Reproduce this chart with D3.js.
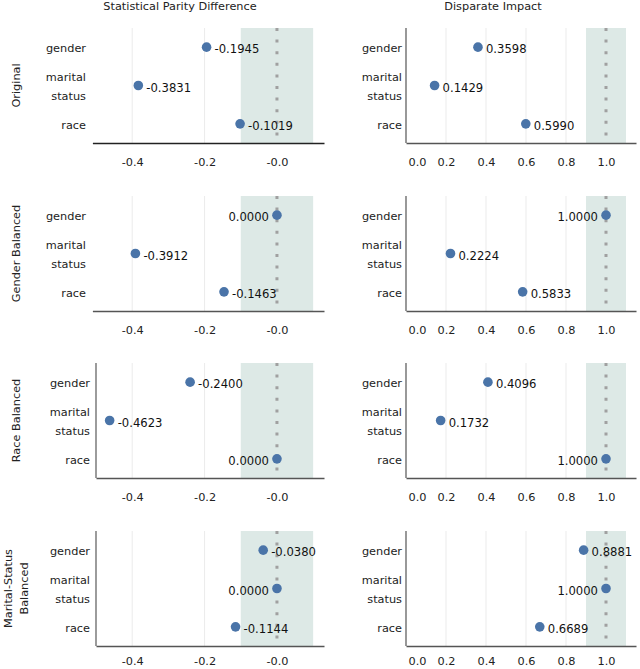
<!DOCTYPE html>
<html>
<head>
<meta charset="utf-8">
<script src="https://cdn.jsdelivr.net/npm/d3@7"></script>
<style>
  body { margin: 0; background: #fff; }
  svg { font-family: "DejaVu Sans", sans-serif; }
</style>
</head>
<body>
<svg width="640" height="669"></svg>
<script>
// categories and rows
var categories = ["gender", "marital status", "race"];
var rowNames = ["Original", "Gender Balanced", "Race Balanced", "Marital-Status Balanced"];

// statistical parity difference, one array per row
var spdOriginal = [-0.1945, -0.3831, -0.1019];
var spdGender = [0.0000, -0.3912, -0.1463];
var spdRace = [-0.2400, -0.4623, 0.0000];
var spdMarital = [-0.0380, 0.0000, -0.1144];

// disparate impact, one array per row
var diOriginal = [0.3598, 0.1429, 0.5990];
var diGender = [1.0000, 0.2224, 0.5833];
var diRace = [0.4096, 0.1732, 1.0000];
var diMarital = [0.8881, 1.0000, 0.6689];

var spdTicks = [-0.4, -0.2, 0.0];
var spdTickLabels = ["-0.4", "-0.2", "-0.0"];
var diTicks = [0.0, 0.2, 0.4, 0.6, 0.8, 1.0];
var diTickLabels = ["0.0", "0.2", "0.4", "0.6", "0.8", "1.0"];

var spdRows = [spdOriginal, spdGender, spdRace, spdMarital];
var diRows = [diOriginal, diGender, diRace, diMarital];

var svg = d3.select("svg");
var rowTop = [28, 196, 363, 531];
var panelH = 115;
var dotColor = "#4a74a8";
var bandColor = "#dde9e6";

// titles
svg.append("text").attr("x", 180).attr("y", 10).attr("text-anchor", "middle")
    .attr("font-size", 11.3).attr("fill", "#222").text("Statistical Parity Difference");
svg.append("text").attr("x", 493).attr("y", 10).attr("text-anchor", "middle")
    .attr("font-size", 11.3).attr("fill", "#222").text("Disparate Impact");

function drawPanel(r, values, opts) {
    var top = rowTop[r], bottom = top + panelH;
    var x = d3.scaleLinear().domain(opts.domain).range(opts.range);
    var y = d3.scalePoint().domain(categories).range([top, bottom]).padding(0.5);
    var g = svg.append("g");

    // shaded acceptable band
    g.append("rect")
        .attr("x", x(opts.band[0])).attr("y", top)
        .attr("width", x(opts.band[1]) - x(opts.band[0]))
        .attr("height", panelH)
        .attr("fill", bandColor);

    // grid lines
    g.selectAll(".grid").data(opts.ticks.filter(function(t){ return t != opts.ideal; }))
        .enter().append("line")
        .attr("x1", function(d){ return x(d); }).attr("x2", function(d){ return x(d); })
        .attr("y1", top).attr("y2", bottom)
        .attr("stroke", "#ebebeb").attr("stroke-width", 1);

    // ideal value line
    g.append("line")
        .attr("x1", x(opts.ideal)).attr("x2", x(opts.ideal))
        .attr("y1", top).attr("y2", bottom)
        .attr("stroke", "#a0a0a0").attr("stroke-width", 3)
        .attr("stroke-dasharray", "3,8.6");

    // x axis
    var ax = g.append("g").attr("transform", "translate(0," + bottom + ")")
        .call(d3.axisBottom(x).tickValues(opts.ticks).tickSize(0).tickPadding(r == 3 ? 11 : 15)
            .tickFormat(function(d, i){ return opts.tickLabels[i]; }));
    ax.select(".domain").attr("stroke", opts.axisColor).attr("stroke-width", 1.3);
    ax.selectAll("text").attr("font-size", 11.3).attr("fill", "#222")
        .attr("font-family", "DejaVu Sans, sans-serif");
    if (opts.firstDx) ax.selectAll(".tick text").filter(function(d, i){ return i == 0; })
        .attr("dx", opts.firstDx);

    // left spine
    if (opts.spine) {
        g.append("line").attr("x1", opts.range[0]).attr("x2", opts.range[0])
            .attr("y1", top).attr("y2", bottom)
            .attr("stroke", "#666").attr("stroke-width", 1.3);
    }

    // category labels
    categories.forEach(function(c) {
        var parts = c.split(" ");
        var t = g.append("text").attr("text-anchor", "end").attr("font-size", 11.3).attr("fill", "#222");
        parts.forEach(function(p, k) {
            t.append("tspan").attr("x", opts.labelX)
                .attr("y", y(c) + 5 + (k - (parts.length - 1) / 2) * 19)
                .text(p);
        });
    });

    // dots
    g.selectAll(".dot").data(values).enter().append("circle")
        .attr("cx", function(d){ return x(d); })
        .attr("cy", function(d, i){ return y(categories[i]); })
        .attr("r", 4.8).attr("fill", dotColor);

    // value labels
    g.selectAll(".val").data(values).enter().append("text")
        .attr("x", function(d){ return d == opts.ideal ? x(d) - 8 : x(d) + 8; })
        .attr("y", function(d, i){ return y(categories[i]) + 6; })
        .attr("text-anchor", function(d){ return d == opts.ideal ? "end" : "start"; })
        .attr("font-size", 11.6).attr("fill", "#111")
        .text(function(d){ return d.toFixed(4); });
}

for (var r = 0; r < 4; r++) {
    var early = r < 2;
    drawPanel(r, spdRows[r], {
        domain: [early ? -0.51 : -0.5, 0.13],
        range: [early ? 92.4 : 96, 324],
        band: [-0.1, 0.1], ideal: 0,
        ticks: spdTicks, tickLabels: spdTickLabels,
        spine: !early, axisColor: r == 0 ? "#222" : "#555",
        labelX: early ? 86 : 90
    });
    drawPanel(r, diRows[r], {
        domain: [0, 1.15], range: [406, 636],
        band: [0.9, 1.1], ideal: 1,
        ticks: diTicks, tickLabels: diTickLabels,
        spine: true, axisColor: "#555", firstDx: 11,
        labelX: 402
    });

    // row label
    var cy = rowTop[r] + panelH / 2;
    var lines = r == 3 ? ["Marital-Status", "Balanced"] : [rowNames[r]];
    var rl = svg.append("text").attr("transform", "translate(0," + cy + ") rotate(-90)")
        .attr("text-anchor", "middle").attr("font-size", 11.3).attr("fill", "#222");
    lines.forEach(function(l, k) {
        rl.append("tspan").attr("x", 0)
            .attr("y", (lines.length == 1 ? 20 : 12 + k * 16)).text(l);
    });
}
</script>
</body>
</html>
